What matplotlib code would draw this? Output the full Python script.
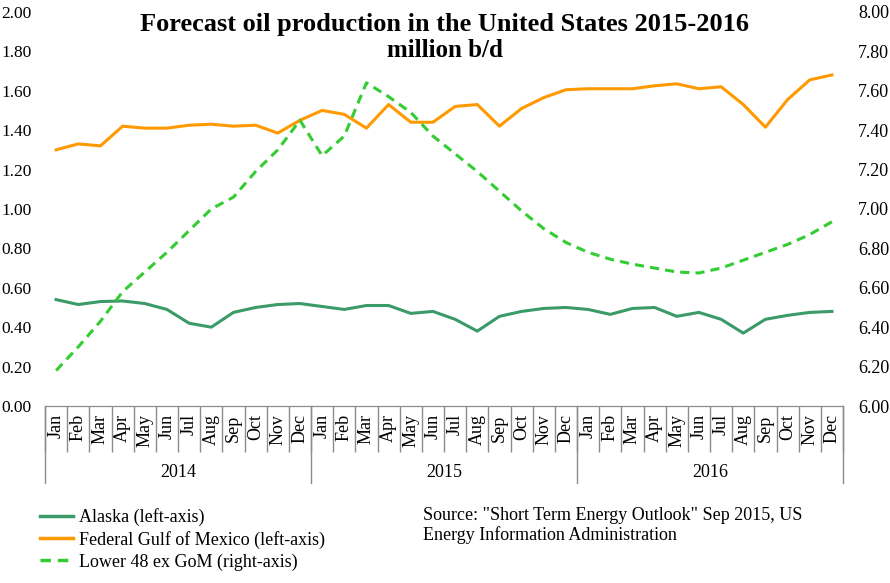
import numpy as np
import matplotlib
matplotlib.use("Agg")
import matplotlib.pyplot as plt
from matplotlib.lines import Line2D
import matplotlib.transforms as mtrans

plt.rcParams['font.family'] = ['Liberation Serif', 'DejaVu Serif']

months = ["Jan", "Feb", "Mar", "Apr", "May", "Jun",
          "Jul", "Aug", "Sep", "Oct", "Nov", "Dec"]
years = ["2014", "2015", "2016"]

# million b/d, left axis
alaska = [0.54, 0.515, 0.53, 0.533, 0.52, 0.49, 0.42, 0.40, 0.475, 0.50, 0.515, 0.52,
          0.505, 0.49, 0.51, 0.51, 0.47, 0.48, 0.44, 0.38, 0.455, 0.48, 0.495, 0.50,
          0.49, 0.465, 0.495, 0.50, 0.455, 0.475, 0.44, 0.37, 0.44, 0.46, 0.475, 0.48]
gulf = [1.30, 1.33, 1.32, 1.42, 1.41, 1.41, 1.425, 1.43, 1.42, 1.425, 1.385, 1.45,
        1.50, 1.48, 1.41, 1.53, 1.44, 1.44, 1.52, 1.53, 1.42, 1.51, 1.565, 1.605,
        1.61, 1.61, 1.61, 1.625, 1.635, 1.61, 1.62, 1.53, 1.415, 1.555, 1.655, 1.68]
# right axis
lower48 = [6.18, 6.30, 6.43, 6.58, 6.68, 6.78, 6.89, 7.00, 7.06, 7.19, 7.30, 7.45,
           7.27, 7.37, 7.64, 7.57, 7.49, 7.37, 7.28, 7.19, 7.09, 6.99, 6.90, 6.83,
           6.78, 6.745, 6.72, 6.70, 6.68, 6.675, 6.70, 6.74, 6.78, 6.82, 6.87, 6.935]

c_alaska = "#3a9a68"
c_gulf = "#ff9900"
c_l48 = "#33cc33"
grey = "#8c8c8c"

fig = plt.figure(figsize=(8.9, 5.83), dpi=100)
ax = fig.add_axes([0.0506, 0.3036, 0.8966, 0.676])
ax2 = ax.twinx()

x = np.arange(len(alaska))
ax.plot(x, alaska, color=c_alaska, lw=2.2)
ax.plot(x, gulf, color=c_gulf, lw=2.2)
ax2.plot(x, lower48, color=c_l48, lw=2.2, ls=(0, (3, 2)))

ax.set_xlim(-0.5, len(x) - 0.5)
ax.set_ylim(0, 2.0)
ax2.set_ylim(6.0, 8.0)
ax.set_yticks(np.arange(0, 2.01, 0.2))
ax.set_yticklabels([f"{v:.2f}" for v in np.arange(0, 2.01, 0.2)])
ax2.set_yticks(np.arange(6.0, 8.01, 0.2))
ax2.set_yticklabels([f"{v:.2f}" for v in np.arange(6.0, 8.01, 0.2)])

for a in (ax, ax2):
    for s in ("top", "left", "right"):
        a.spines[s].set_visible(False)
    a.spines["bottom"].set_color(grey)
ax.tick_params(axis="y", length=0, labelsize=12.5, pad=9.5)
ax2.tick_params(axis="y", length=0, labelsize=13, pad=11)

labels = months * len(years)
ax.set_xticks(x)
ax.set_xticklabels(labels, rotation=90, fontsize=13)
ax.tick_params(axis="x", which="major", length=0, pad=6)
ax.set_xticks(np.arange(-0.5, len(x), 1.0), minor=True)
ax.tick_params(axis="x", which="minor", length=33, color=grey, width=1)

# year separators and labels
trans = mtrans.blended_transform_factory(ax.transData, ax.transAxes)
for k in range(len(years) + 1):
    ax.plot([k * 12 - 0.5] * 2, [0, -0.196], color=grey, lw=1,
            transform=trans, clip_on=False)
for k, yr in enumerate(years):
    ax.text(k * 12 + 5.5, -0.168, yr, transform=trans, ha="center",
            va="center", fontsize=13)

fig.text(0.5, 0.958, "Forecast oil production in the United States 2015-2016",
         ha="center", va="center", fontsize=19, fontweight="bold")
fig.text(0.5, 0.914, "million b/d", ha="center", va="center",
         fontsize=18, fontweight="bold")

handles = [Line2D([], [], color=c_alaska, lw=2.5),
           Line2D([], [], color=c_gulf, lw=2.5),
           Line2D([], [], color=c_l48, lw=2.5, ls=(0, (3, 2)))]
names = ["Alaska (left-axis)", "Federal Gulf of Mexico (left-axis)",
         "Lower 48 ex GoM (right-axis)"]
fig.legend(handles, names, loc="upper left", bbox_to_anchor=(0.045, 0.128),
           frameon=False, fontsize=13, handlelength=1.85, handletextpad=0.3,
           labelspacing=0.25, borderaxespad=0, borderpad=0)

fig.text(0.475, 0.0985, "Source: \"Short Term Energy Outlook\" Sep 2015, US\n"
         "Energy Information Administration", ha="left", va="center",
         fontsize=13, linespacing=1.2)

fig.savefig("out.png", dpi=100)
